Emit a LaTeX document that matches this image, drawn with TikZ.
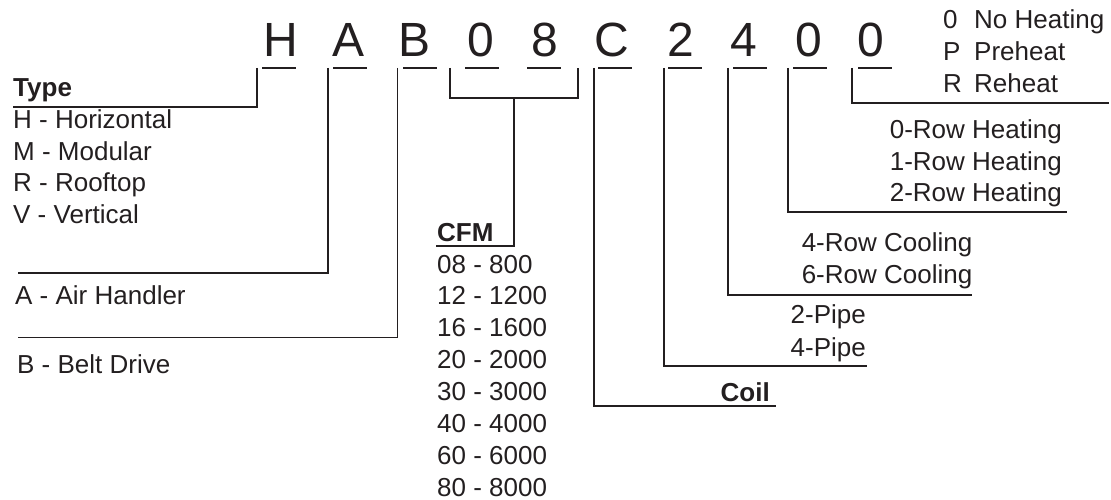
\documentclass[tikz,border=0pt]{standalone}
\usepackage{fontspec}
\setmainfont{Liberation Sans}
\definecolor{ink}{HTML}{231F20}

\tikzset{
  code/.style={anchor=base, inner sep=0pt, font=\fontsize{48}{48}\selectfont},
  item/.style={anchor=base west, inner sep=0pt, font=\fontsize{26}{30}\selectfont},
  itemr/.style={anchor=base east, inner sep=0pt, font=\fontsize{26}{30}\selectfont},
  head/.style={item, font=\fontsize{26}{30}\selectfont\bfseries},
  headr/.style={itemr, font=\fontsize{26}{30}\selectfont\bfseries},
  lead/.style={line width=1.8pt},
}

\begin{document}
\begin{tikzpicture}[x=1pt, y=-1pt, color=ink]
  \useasboundingbox (0,0) rectangle (1111,500);

  % model code
  \foreach \c/\x [count=\i] in {H/280.5, A/348.5, B/415, 0/481, 8/545, C/612, 2/681, 4/744, 0/809, 0/871}
    \node[code] (c\i) at (\x,57) {\c};
  \foreach \x in {262,333,403,465,527,598,668,733,793,858}
    \draw[lead] (\x,68) -- ++(34,0);

  % leader tops
  \coordinate (tH) at (257,68);
  \coordinate (tA) at (328,68);
  \coordinate (tB) at (397.5,68);
  \coordinate (tF1) at (450,68);
  \coordinate (tF2) at (578,68);
  \coordinate (tC) at (594,68);
  \coordinate (tP) at (664,68);
  \coordinate (tR) at (728,68);
  \coordinate (tHt) at (788,68);
  \coordinate (tX) at (852,68);

  % leader ends
  \coordinate (eH) at (13,107);
  \coordinate (eA) at (18,273);
  \coordinate (eB) at (18,337.5);
  \coordinate (eF) at (436,246);
  \coordinate (eC) at (776,406);
  \coordinate (eP) at (867,366);
  \coordinate (eR) at (972,295);
  \coordinate (eHt) at (1067,212);
  \coordinate (eX) at (1109,103);

  % type
  \node[head] (type) at (13,97) {Type};
  \foreach \t [count=\i] in {H - Horizontal, M - Modular, R - Rooftop, V - Vertical}
    \node[item] (ty\i) at (13,{97+31.6*\i}) {\t};
  \node[item] (air) at (15,304) {A - Air Handler};
  \node[item] (belt) at (17,373) {B - Belt Drive};

  % cfm
  \node[head] (cfm) at (437,241) {CFM};
  \foreach \t [count=\i from 0] in {08 - 800, 12 - 1200, 16 - 1600, 20 - 2000, 30 - 3000, 40 - 4000, 60 - 6000, 80 - 8000}
    \node[item] (cf\i) at (437,{273+31.9*\i}) {\t};

  % coil
  \node[headr] (coil) at (770,401.5) {Coil};
  \node[itemr] (p2) at (866,323.5) {2-Pipe};
  \node[itemr] (p4) at (866,356.5) {4-Pipe};
  \node[itemr] (r4) at (972.5,251) {4-Row Cooling};
  \node[itemr] (r6) at (972.5,283.5) {6-Row Cooling};
  \node[itemr] (h0) at (1062,138.5) {0-Row Heating};
  \node[itemr] (h1) at (1062,170) {1-Row Heating};
  \node[itemr] (h2) at (1062,201.5) {2-Row Heating};

  % heat options
  \foreach \k/\t [count=\i from 0] in {0/No Heating, P/Preheat, R/Reheat} {
    \node[item] (k\i) at (943,{29+32*\i}) {\k};
    \node[item] (o\i) at (974,{29+32*\i}) {\t};
  }

  \foreach \from/\to in {tH/eH, tA/eA, tB/eB, tC/eC, tP/eP, tR/eR, tHt/eHt, tX/eX}
    \draw[lead] (\from) |- (\to);
  \draw[lead] (tF1) |- (578,98) -- (tF2);
  \draw[lead] (514,98) |- (eF);
\end{tikzpicture}
\end{document}
